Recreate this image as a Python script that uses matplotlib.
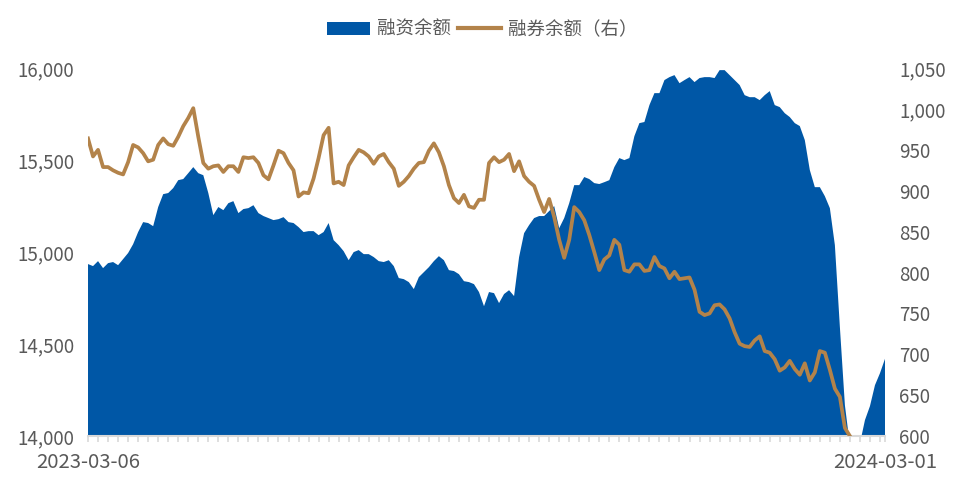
import numpy as np
import matplotlib
matplotlib.use("Agg")
import matplotlib.pyplot as plt
from matplotlib.patches import Patch
from matplotlib.lines import Line2D
from matplotlib.ticker import FuncFormatter

plt.rcParams['font.family'] = ['Noto Sans CJK SC', 'DejaVu Sans']

# 融资余额 (left axis), sampled evenly from 2023-03-06 to 2024-03-01
financing = [
    14935, 14924, 14951, 14913, 14940, 14946, 14929, 14962, 14995, 15043,
    15109, 15163, 15158, 15141, 15245, 15315, 15321, 15348, 15391, 15397,
    15429, 15462, 15429, 15418, 15321, 15201, 15245, 15228, 15266, 15277,
    15212, 15234, 15239, 15255, 15212, 15196, 15185, 15174, 15179, 15190,
    15163, 15158, 15136, 15109, 15114, 15114, 15092, 15109, 15158, 15065,
    15038, 15005, 14956, 15000, 15011, 14989, 14989, 14973, 14951, 14946,
    14956, 14924, 14859, 14853, 14837, 14799, 14864, 14891, 14918, 14951,
    14978, 14956, 14902, 14897, 14880, 14842, 14837, 14826, 14783, 14706,
    14783, 14777, 14723, 14772, 14793, 14761, 14973, 15103, 15147, 15185,
    15196, 15196, 15223, 15250, 15130, 15185, 15266, 15364, 15364, 15408,
    15397, 15375, 15370, 15380, 15391, 15462, 15511, 15500, 15511, 15630,
    15701, 15707, 15799, 15864, 15864, 15935, 15951, 15962, 15918, 15935,
    15951, 15924, 15946, 15951, 15951, 15946, 15989, 15989, 15962, 15935,
    15908, 15853, 15842, 15842, 15826, 15853, 15875, 15799, 15788, 15755,
    15734, 15701, 15685, 15609, 15446, 15353, 15353, 15304, 15239, 15038,
    14592, 14168, 13950, 13940, 13960, 14087, 14163, 14277, 14342, 14420,
]

# 融券余额 (right axis)
lending = [
    964, 942, 950, 929, 929, 925, 922, 920, 935, 956,
    953, 946, 936, 938, 956, 964, 957, 955, 966, 979,
    989, 1001, 966, 934, 927, 930, 931, 923, 930, 930,
    923, 941, 940, 941, 934, 919, 914, 931, 949, 946,
    934, 925, 893, 898, 897, 915, 940, 968, 977, 909,
    911, 907, 931, 941, 950, 947, 942, 933, 942, 945,
    935, 927, 906, 911, 918, 927, 934, 935, 949, 958,
    947, 930, 907, 891, 885, 895, 881, 879, 889, 889,
    934, 941, 935, 938, 945, 924, 936, 918, 911, 906,
    889, 874, 890, 868, 840, 818, 840, 880, 874, 864,
    846, 825, 803, 816, 821, 840, 834, 803, 801, 810,
    810, 802, 803, 819, 808, 805, 793, 801, 792, 793,
    794, 779, 752, 748, 750, 760, 761, 755, 744, 727,
    713, 710, 709, 717, 722, 704, 702, 694, 680, 684,
    692, 682, 675, 689, 668, 678, 704, 702, 681, 658,
    648, 610, 600, np.nan, np.nan, np.nan, np.nan, np.nan, np.nan, np.nan,
]

date_labels = ["2023-03-06", "2024-03-01"]
left_ticks = [14000, 14500, 15000, 15500, 16000]
right_ticks = [600, 650, 700, 750, 800, 850, 900, 950, 1000, 1050]

blue = "#0057A6"
brown = "#B3834A"
grey_text = "#595959"
axis_grey = "#D9D9D9"

x = np.arange(len(financing))

fig = plt.figure(figsize=(9.65, 4.9), dpi=100)
ax = fig.add_axes([0.0912, 0.110, 0.8259, 0.751])
ax2 = ax.twinx()

ax.fill_between(x, financing, 13000, color=blue, lw=0)
ax2.plot(x, lending, color=brown, lw=2.7, solid_joinstyle="round")

ax.set_xlim(0, len(x) - 1)
ax.set_ylim(14000, 16000)
ax2.set_ylim(600, 1050)

comma = FuncFormatter(lambda v, p: f"{v:,.0f}")
ax.set_yticks(left_ticks)
ax.yaxis.set_major_formatter(comma)
ax2.set_yticks(right_ticks)
ax2.yaxis.set_major_formatter(comma)

ax.set_xticks([0, len(x) - 1])
ax.set_xticklabels(date_labels)
ax.set_xticks(np.arange(0, len(x), 2), minor=True)

for a in (ax, ax2):
    for s in a.spines.values():
        s.set_visible(False)
    a.tick_params(axis="y", length=0, labelsize=13.5, labelcolor=grey_text, pad=10)
ax.spines["bottom"].set_visible(True)
ax.spines["bottom"].set_color(axis_grey)
ax.spines["bottom"].set_linewidth(1.5)
ax.tick_params(axis="x", which="both", length=4.5, width=1.2, color=axis_grey,
               labelsize=14.7, labelcolor=grey_text, pad=7)

handles = [Patch(facecolor=blue, edgecolor="none"),
           Line2D([], [], color=brown, lw=3)]
fig.legend(handles, ["融资余额", "融券余额（右）"], loc="center",
           bbox_to_anchor=(0.500, 0.939), ncol=2, frameon=False,
           fontsize=13.3, labelcolor=grey_text, handlelength=2.3,
           handletextpad=0.4, columnspacing=0.4)

fig.savefig("out.png", dpi=100)
